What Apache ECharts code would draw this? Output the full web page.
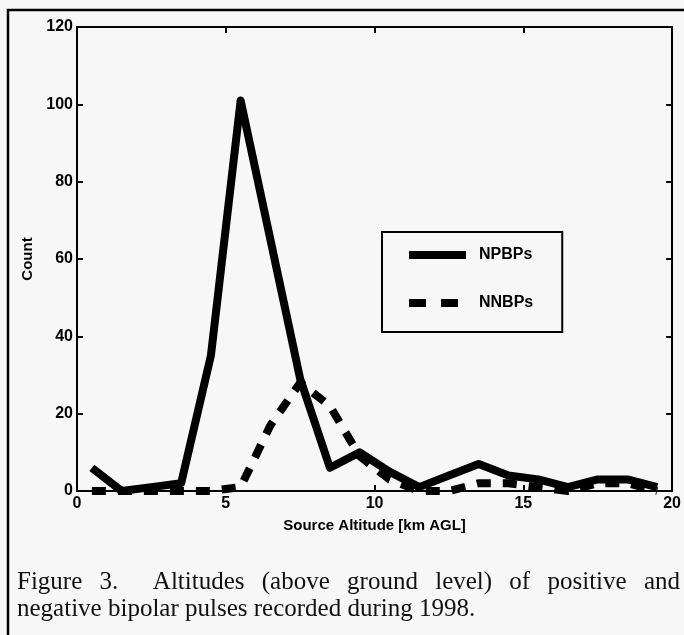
<!DOCTYPE html>
<html>
<head>
<meta charset="utf-8">
<script src="https://cdn.jsdelivr.net/npm/echarts/dist/echarts.min.js"></script>
<style>
html,body{margin:0;padding:0;background:#f7f7f7;}
#c{width:684px;height:635px;}
</style>
</head>
<body>
<div id="c"></div>
<script>
// ---- data ----
const altitudes = [0.5,1.5,2.5,3.5,4.5,5.5,6.5,7.5,8.5,9.5,10.5,11.5,12.5,13.5,14.5,15.5,16.5,17.5,18.5,19.5];
const npbpCounts = [6,0,1,2,35,101,65,29,6,10,5,1,4,7,4,3,1,3,3,1];
const nnbpCounts = [0,0,0,0,0,1,17,28,22,9,3,0,0,2,2,1,0,2,2,0];
const seriesNames = ['NPBPs','NNBPs'];
const xTitle = 'Source Altitude [km AGL]';
const yTitle = 'Count';
const captionLine1 = ['Figure','3.','Altitudes','(above','ground','level)','of','positive','and'];
const captionLine2 = 'negative bipolar pulses recorded during 1998.';

const SANS = '"Liberation Sans", Arial, Helvetica, sans-serif';
const SERIF = '"Liberation Serif", "Times New Roman", serif';
const capFont = '25px ' + SERIF;

// justify caption line 1 between x=17 and x=680
const mctx = document.createElement('canvas').getContext('2d');
mctx.font = capFont;
const widths = captionLine1.map(w => mctx.measureText(w).width);
const left = 17, right = 680;
const totalW = widths.reduce((a,b)=>a+b,0);
const weights = captionLine1.slice(1).map((w,i)=> i===1 ? 2 : 1); // wider gap after "3."
const wsum = weights.reduce((a,b)=>a+b,0);
const unit = (right-left-totalW)/wsum;
const capElems = [];
let cx = left;
captionLine1.forEach((w,i)=>{
  capElems.push({type:'text', x:cx, y:582, silent:true,
    style:{text:w, font:capFont, fill:'#111', textVerticalAlign:'middle', verticalAlign:'middle'}});
  cx += widths[i] + (i < weights.length ? weights[i]*unit : 0);
});
capElems.push({type:'text', x:left, y:609, silent:true,
  style:{text:captionLine2, font:capFont, fill:'#111', textVerticalAlign:'middle', verticalAlign:'middle'}});

const chart = echarts.init(document.getElementById('c'), null, {renderer:'canvas'});

const axisLine = {show:true, onZero:false, lineStyle:{color:'#000', width:2}};
const axisTick = {show:true, inside:true, length:6, lineStyle:{color:'#000', width:2}};
const labelStyle = {color:'#000', fontSize:16, fontWeight:'bold', fontFamily:SANS};

chart.setOption({
  backgroundColor:'#f7f7f7',
  animation:false,
  grid:{left:77, right:11, top:27, bottom:144, containLabel:false},
  xAxis:[
    {type:'value', min:0, max:20, interval:5, position:'bottom',
     axisLine, axisTick, splitLine:{show:false},
     axisLabel:Object.assign({margin:5}, labelStyle),
     name:xTitle, nameLocation:'middle', nameGap:27,
     nameTextStyle:{color:'#000', fontSize:15, fontWeight:'bold', fontFamily:SANS}},
    {type:'value', min:0, max:20, interval:5, position:'top',
     axisLine, axisTick, splitLine:{show:false}, axisLabel:{show:false}}
  ],
  yAxis:[
    {type:'value', min:0, max:120, interval:20, position:'left',
     axisLine, axisTick, splitLine:{show:false},
     axisLabel:Object.assign({margin:4}, labelStyle),
     name:yTitle, nameLocation:'middle', nameGap:38,
     nameTextStyle:{color:'#000', fontSize:15, fontWeight:'bold', fontFamily:SANS}},
    {type:'value', min:0, max:120, interval:20, position:'right',
     axisLine, axisTick, splitLine:{show:false}, axisLabel:{show:false}}
  ],
  legend:{
    left:382, top:232, orient:'vertical',
    itemWidth:57, itemHeight:14, itemGap:32,
    padding:[15,29,21,23],
    borderColor:'#000', borderWidth:2,
    backgroundColor:'#f7f7f7',
    lineStyle:{width:8},
    itemStyle:{opacity:0},
    textStyle:{color:'#000', fontSize:16, fontWeight:'bold', fontFamily:SANS, padding:[0,0,0,8]},
    data:[{name:seriesNames[0]}, {name:seriesNames[1], lineStyle:{width:8, type:[17,15]}}]
  },
  series:[
    {name:seriesNames[0], type:'line', xAxisIndex:0, yAxisIndex:0,
     symbol:'none', showSymbol:false, z:3,
     data:altitudes.map((a,i)=>[a, npbpCounts[i]]),
     lineStyle:{color:'#000', width:8, cap:'butt', join:'round'},
     itemStyle:{color:'#000'}},
    {name:seriesNames[1], type:'line', xAxisIndex:0, yAxisIndex:0,
     symbol:'none', showSymbol:false, z:2,
     data:altitudes.map((a,i)=>[a, nnbpCounts[i]]),
     lineStyle:{color:'#000', width:8, type:[14,12], cap:'butt', join:'round'},
     itemStyle:{color:'#000'}}
  ],
  graphic:[
    {type:'rect', silent:true, z:-10, shape:{x:8, y:10, width:800, height:800},
     style:{fill:'none', stroke:'#000', lineWidth:2.5}}
  ].concat(capElems)
});
</script>
</body>
</html>
